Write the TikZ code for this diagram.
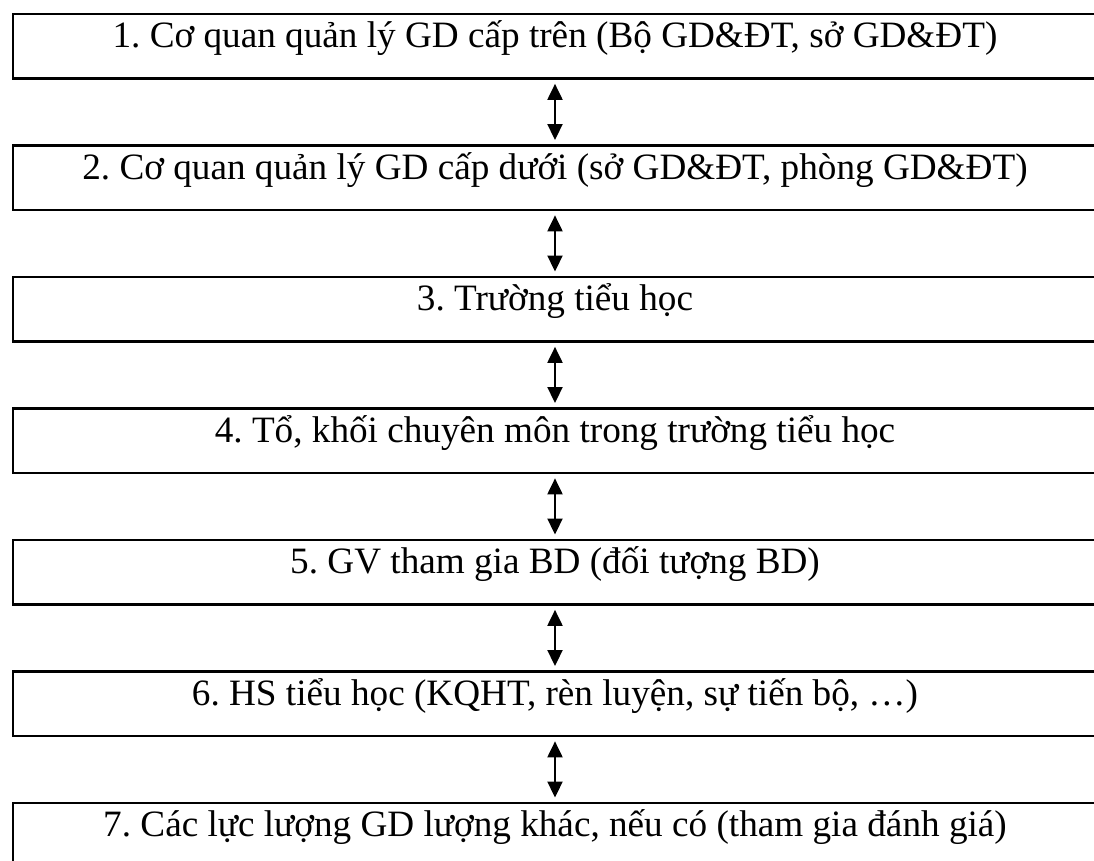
\documentclass[tikz,border=0pt]{standalone}
\usepackage{fontspec}
\setmainfont{Liberation Serif}
\usetikzlibrary{positioning}
\usetikzlibrary{arrows.meta}
\frenchspacing

\begin{document}
\begin{tikzpicture}[
  level/.style={draw, line width=1.4pt, minimum width=542pt, minimum height=32.25pt,
    inner sep=0pt, text height=13.5pt, text depth=11.75pt, font=\fontsize{18.6}{21}\selectfont},
  link/.style={<->, >={Triangle[width=7.5pt,length=8pt]}, line width=1pt, shorten <=2pt, shorten >=2pt},
  node distance=32.1pt]
 \useasboundingbox (0,0) rectangle (547pt,-430.5pt);
 \node[level] (b1) at (277.5pt,-23.1pt) {1. Cơ quan quản lý GD cấp trên (Bộ GD\&ĐT, sở GD\&ĐT)};
 \node[level, below=of b1] (b2) {2. Cơ quan quản lý GD cấp dưới (sở GD\&ĐT, phòng GD\&ĐT)};
 \node[level, below=of b2] (b3) {3. Trường tiểu học};
 \node[level, below=of b3] (b4) {4. Tổ, khối chuyên môn trong trường tiểu học};
 \node[level, below=of b4] (b5) {5. GV tham gia BD (đối tượng BD)};
 \node[level, below=of b5] (b6) {6. HS tiểu học (KQHT, rèn luyện, sự tiến bộ, …)};
 \node[level, below=of b6] (b7) {7. Các lực lượng GD lượng khác, nếu có (tham gia đánh giá)};
 \foreach \i/\j in {1/2,2/3,3/4,4/5,5/6,6/7}
  \draw[link] (b\i) -- (b\j);
\end{tikzpicture}
\end{document}
